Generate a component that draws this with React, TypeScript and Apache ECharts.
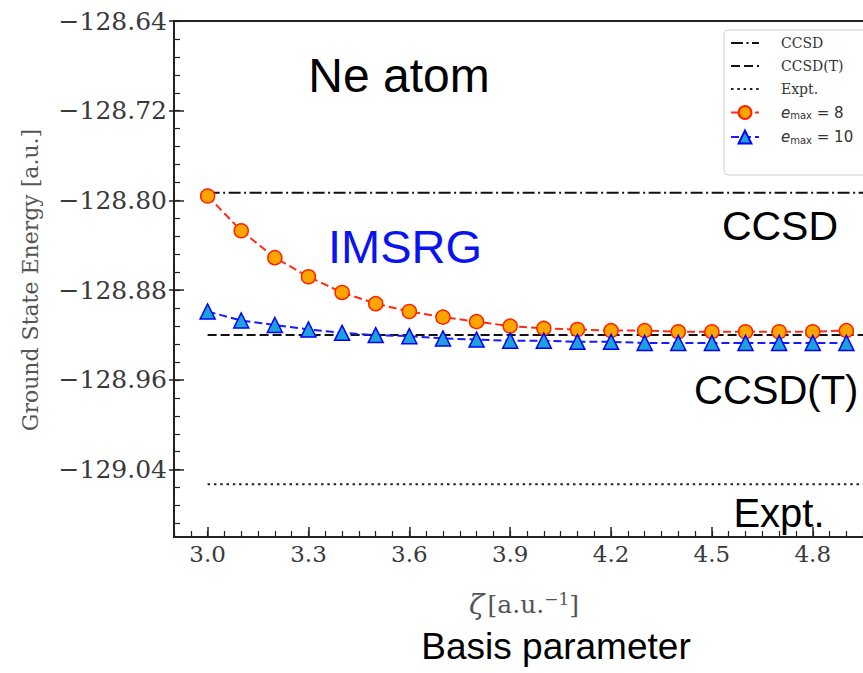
import React, { useEffect, useRef } from "react";
import * as echarts from "echarts";

// ---- data ----
const zeta = [3.0, 3.1, 3.2, 3.3, 3.4, 3.5, 3.6, 3.7, 3.8, 3.9, 4.0, 4.1, 4.2, 4.3, 4.4, 4.5, 4.6, 4.7, 4.8, 4.9];
const emax8 = [
  -128.796, -128.827, -128.851, -128.868, -128.882, -128.892, -128.899, -128.904, -128.908, -128.912,
  -128.914, -128.915, -128.916, -128.916, -128.917, -128.917, -128.917, -128.917, -128.917, -128.916,
];
const emax10 = [
  -128.899, -128.907, -128.911, -128.915, -128.918, -128.920, -128.921, -128.923, -128.924, -128.925,
  -128.925, -128.926, -128.926, -128.927, -128.927, -128.927, -128.927, -128.927, -128.927, -128.927,
];
const ccsd = -128.793;
const ccsdT = -128.92;
const expt = -129.053;
const refLineX = [3.0, 5.0];

const xRange = [2.9, 5.0];
const yRange = [-129.1, -128.64];
const xMajorTicks = [3.0, 3.3, 3.6, 3.9, 4.2, 4.5, 4.8];
const yMajorTicks = [-129.04, -128.96, -128.88, -128.8, -128.72, -128.64];
const xMinorStep = 0.05;
const yMinorStep = 0.016;

const legendNames = ["CCSD", "CCSD(T)", "Expt.", "e_max = 8", "e_max = 10"];

function minorTicks(lo: number, hi: number, step: number, anchor: number) {
  const out: number[] = [];
  const k0 = Math.ceil((lo - anchor) / step - 1e-6);
  for (let k = k0; anchor + k * step <= hi + 1e-9; k++) {
    out.push(Math.round((anchor + k * step) * 10000) / 10000);
  }
  return out;
}

const SERIF = '"DejaVu Serif", serif';
const SANS = '"Liberation Sans", Arial, sans-serif';
const MATH = '"DejaVu Sans", sans-serif';

export default function App() {
  const ref = useRef<HTMLDivElement>(null);
  useEffect(() => {
    if (!ref.current) return;
    const chart = echarts.init(ref.current, undefined, { renderer: "svg" });
    const xMinor = minorTicks(xRange[0], xRange[1], xMinorStep, 3.0);
    const yMinor = minorTicks(yRange[0], yRange[1], yMinorStep, -128.64);
    const tickColor = "#222";
    const yLabel = (v: number) => (v < 0 ? "\u2212" : "") + Math.abs(v).toFixed(2);

    const refLine = (name: string, v: number, type: any, width: number, color: string) => ({
      name,
      type: "line",
      xAxisIndex: 0,
      yAxisIndex: 0,
      data: refLineX.map((x) => [x, v]),
      symbol: "none",
      lineStyle: { color, width, type },
      itemStyle: { color },
      z: 2,
    });

    chart.setOption({
      animation: false,
      backgroundColor: "#fff",
      grid: {
        left: 174,
        right: 20,
        top: 21,
        bottom: 136,
        show: true,
        borderColor: "#222",
        borderWidth: 2,
        backgroundColor: "transparent",
      },
      xAxis: [
        {
          type: "value",
          min: xRange[0],
          max: xRange[1],
          axisLine: { show: false },
          splitLine: { show: false },
          axisTick: { show: true, inside: true, length: 10, lineStyle: { color: tickColor, width: 1.5 }, customValues: xMajorTicks },
          axisLabel: {
            customValues: xMajorTicks,
            formatter: (v: number) => v.toFixed(1),
            fontFamily: SERIF,
            fontSize: 23,
            color: "#3a3a3a",
            margin: 5,
          },
        },
        {
          type: "value",
          min: xRange[0],
          max: xRange[1],
          position: "bottom",
          axisLine: { show: false },
          splitLine: { show: false },
          axisTick: { show: true, inside: true, length: 6, lineStyle: { color: tickColor, width: 1.2 }, customValues: xMinor },
          axisLabel: { show: false },
        },
      ],
      yAxis: [
        {
          type: "value",
          min: yRange[0],
          max: yRange[1],
          axisLine: { show: false },
          splitLine: { show: false },
          axisTick: { show: true, inside: true, length: 10, lineStyle: { color: tickColor, width: 1.5 }, customValues: yMajorTicks },
          axisLabel: {
            customValues: yMajorTicks,
            formatter: yLabel,
            fontFamily: SERIF,
            fontSize: 25,
            color: "#3a3a3a",
            margin: 7,
          },
        },
        {
          type: "value",
          min: yRange[0],
          max: yRange[1],
          position: "left",
          axisLine: { show: false },
          splitLine: { show: false },
          axisTick: { show: true, inside: true, length: 6, lineStyle: { color: tickColor, width: 1.2 }, customValues: yMinor },
          axisLabel: { show: false },
        },
        {
          type: "value",
          min: yRange[0],
          max: yRange[1],
          position: "left",
          axisLine: { show: false },
          splitLine: { show: false },
          axisTick: { show: true, inside: false, length: 5, lineStyle: { color: tickColor, width: 1.5 }, customValues: yMajorTicks },
          axisLabel: { show: false },
        },
      ],
      legend: {
        orient: "vertical",
        left: 724,
        top: 30,
        itemWidth: 28,
        itemHeight: 16,
        itemGap: 9,
        backgroundColor: "#fff",
        borderColor: "#d0d0d0",
        borderWidth: 1,
        borderRadius: 4,
        padding: [6, 30, 30, 6],
        data: legendNames.map((name, i) =>
          i < 3 ? { name, itemStyle: { opacity: 0 } } : { name }
        ),
        formatter: (name: string) => {
          if (name.startsWith("e_max")) {
            const n = name.split("=")[1].trim();
            return "{i|e}{s|max}{t| = " + n + "}";
          }
          return name;
        },
        textStyle: {
          fontFamily: SERIF,
          fontSize: 14,
          color: "#333",
          padding: [0, 0, 0, 17],
          rich: {
            i: { fontFamily: MATH, fontStyle: "italic", fontSize: 15, color: "#333" },
            s: { fontFamily: MATH, fontSize: 10, color: "#333", verticalAlign: "bottom", padding: [6, 0, 0, 0] },
            t: { fontFamily: MATH, fontSize: 15, color: "#333" },
          },
        },
      },
      series: [
        refLine("CCSD", ccsd, [12, 3.5, 2, 3.5], 2, "#111"),
        refLine("CCSD(T)", ccsdT, [9, 4], 2, "#111"),
        refLine("Expt.", expt, [2.5, 3.8], 2, "#222"),
        {
          name: "e_max = 8",
          type: "line",
          xAxisIndex: 0,
          yAxisIndex: 0,
          data: zeta.map((x, i) => [x, emax8[i]]),
          symbol: "circle",
          symbolSize: 14,
          lineStyle: { color: "#ff2a1a", width: 2, type: [8, 4] },
          itemStyle: { color: "#ffa500", borderColor: "#ff2000", borderWidth: 1.5 },
          z: 3,
        },
        {
          name: "e_max = 10",
          type: "line",
          xAxisIndex: 0,
          yAxisIndex: 0,
          data: zeta.map((x, i) => [x, emax10[i]]),
          symbol: "triangle",
          symbolSize: [15, 15],
          lineStyle: { color: "#1a1aff", width: 2, type: [8, 4] },
          itemStyle: { color: "#1ea0d8", borderColor: "#0000ff", borderWidth: 1.5 },
          z: 4,
        },
      ],
      graphic: [
        {
          type: "text",
          x: 30,
          y: 280,
          rotation: Math.PI / 2,
          style: { text: "Ground State Energy [a.u.]", fontFamily: SERIF, fontSize: 22, fill: "#555", align: "center", verticalAlign: "middle" },
        },
        {
          type: "text",
          x: 524,
          y: 604,
          style: {
            text: "{z|\u03b6} {b|[a.u.}{p|\u22121}{b|]}",
            align: "center",
            verticalAlign: "middle",
            rich: {
              z: { fontFamily: SERIF, fontStyle: "italic", fontSize: 28, fill: "#555" },
              b: { fontFamily: SERIF, fontSize: 25, fill: "#555" },
              p: { fontFamily: SERIF, fontSize: 17, fill: "#555", verticalAlign: "top", padding: [0, 0, 10, 0] },
            },
          },
        },
        {
          type: "text",
          x: 399,
          y: 75,
          style: { text: "Ne atom", fontFamily: SANS, fontSize: 48, fill: "#000", align: "center", verticalAlign: "middle" },
        },
        {
          type: "text",
          x: 405,
          y: 246,
          style: { text: "IMSRG", fontFamily: SANS, fontSize: 47, fill: "#0a14f0", align: "center", verticalAlign: "middle" },
        },
        {
          type: "text",
          x: 780,
          y: 226,
          style: { text: "CCSD", fontFamily: SANS, fontSize: 41, fill: "#000", align: "center", verticalAlign: "middle" },
        },
        {
          type: "text",
          x: 694,
          y: 390,
          style: { text: "CCSD(T)", fontFamily: SANS, fontSize: 40, fill: "#000", align: "left", verticalAlign: "middle" },
        },
        {
          type: "text",
          x: 779,
          y: 513,
          style: { text: "Expt.", fontFamily: SANS, fontSize: 40, fill: "#000", align: "center", verticalAlign: "middle" },
        },
        {
          type: "text",
          x: 556,
          y: 646,
          style: { text: "Basis parameter", fontFamily: SANS, fontSize: 37, fill: "#000", align: "center", verticalAlign: "middle" },
        },
      ],
    });
    return () => chart.dispose();
  }, []);

  return (
    <div style={{ position: "fixed", left: 0, top: 0, width: 863, height: 673, overflow: "hidden", background: "#fff" }}>
      <div ref={ref} style={{ width: 900, height: 673 }} />
    </div>
  );
}
